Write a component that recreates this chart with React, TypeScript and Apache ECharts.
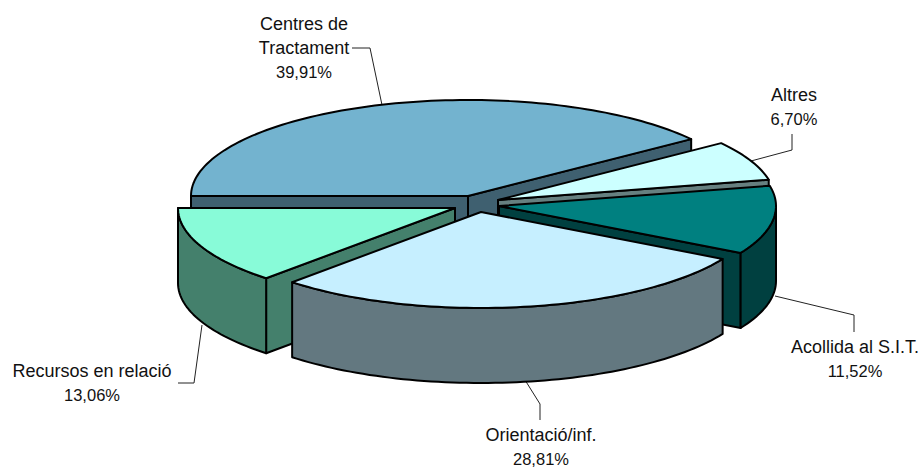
import React, { useEffect, useRef } from "react";
import * as echarts from "echarts";

// ---- data ----
const categories = ["Centres de\nTractament", "Altres", "Acollida al S.I.T.", "Orientació/inf.", "Recursos en relació"];
const values = [39.91, 6.7, 11.52, 28.81, 13.06];
const topColors = ["#73B3CF", "#CCFFFF", "#008080", "#C6EFFF", "#88FBD8"];
const sideColors = ["#3F6070", "#668080", "#004040", "#637880", "#44806C"];

// ---- layout ----
const RX = 277;
const RY = 96;
const DEPTH = 75;
const START_ANGLE = 180;
const LINE_STEP = 24;
const apexes = [[468, 196], [498, 200], [499, 206], [481, 212], [455, 208]];
const drawOrder = [0, 1, 2, 4, 3];
const labelPositions = [[304, 47.5], [794, 107], [855, 359], [541, 446.5], [92, 383]];
const leaderLines = [
  [[352, 48], [370, 48], [382, 105]],
  [[792, 134], [792, 150], [751, 161]],
  [[775, 296], [854, 315], [854, 332]],
  [[525, 380], [540, 404], [540, 420]],
  [[178, 383], [194, 383], [202, 325]],
];

const angleRanges = (() => {
  const total = values.reduce((a, b) => a + b, 0);
  let cursor = START_ANGLE;
  return values.map((v) => {
    const from = cursor;
    cursor -= (v / total) * 360;
    return [from, cursor];
  });
})();

const rad = (d: number) => (d * Math.PI) / 180;

function rimPoint(cx: number, cy: number, deg: number, dy = 0) {
  return [cx + RX * Math.cos(rad(deg)), cy - RY * Math.sin(rad(deg)) + dy];
}

function arc(cx: number, cy: number, from: number, to: number, dy = 0) {
  const n = Math.max(2, Math.ceil(Math.abs(from - to) / 1.5));
  const pts: number[][] = [];
  for (let i = 0; i <= n; i++) pts.push(rimPoint(cx, cy, from + ((to - from) * i) / n, dy));
  return pts;
}

const STROKE = { stroke: "#000", lineWidth: 2, lineJoin: "round" as const };

function renderSlice(_params: any, api: any) {
  const idx = api.value(0);
  const [cx, cy] = apexes[idx];
  const [from, to] = angleRanges[idx];
  const side = { fill: sideColors[idx], ...STROKE };
  const children: any[] = [];

  const wall = (deg: number) => {
    const p = rimPoint(cx, cy, deg);
    return {
      type: "polygon",
      shape: { points: [[cx, cy], p, [p[0], p[1] + DEPTH], [cx, cy + DEPTH]] },
      style: side,
    };
  };
  if (Math.sin(rad(from + 90)) < 0) children.push(wall(from));
  if (Math.sin(rad(to - 90)) < 0) children.push(wall(to));

  const rimFrom = Math.min(from, 0);
  if (rimFrom > to) {
    children.push({
      type: "polygon",
      shape: { points: [...arc(cx, cy, rimFrom, to), ...arc(cx, cy, to, rimFrom, DEPTH)] },
      style: side,
    });
  }
  children.push({
    type: "polygon",
    shape: { points: [[cx, cy], ...arc(cx, cy, from, to)] },
    style: { fill: topColors[idx], ...STROKE },
  });
  return { type: "group", children };
}

const percent = (v: number) => v.toFixed(2).replace(".", ",") + "%";

const FONT_FAMILY = '"Liberation Sans", Arial, sans-serif';

function labelTexts(i: number) {
  const rows = [
    ...categories[i].split("\n").map((text) => ({ text, size: 18 })),
    { text: percent(values[i]), size: 16.5 },
  ];
  const [x, cy] = labelPositions[i];
  return rows.map((row, r) => ({
    type: "text",
    silent: true,
    x,
    y: cy + (r - (rows.length - 1) / 2) * LINE_STEP,
    style: {
      text: row.text,
      fill: "#111",
      font: `${row.size}px ${FONT_FAMILY}`,
      align: "center",
      verticalAlign: "middle",
    },
  }));
}

export default function App() {
  const ref = useRef<HTMLDivElement>(null);
  useEffect(() => {
    const chart = echarts.init(ref.current!, undefined, { renderer: "svg" });
    chart.setOption({
      animation: false,
      backgroundColor: "#fff",
      series: [
        {
          type: "custom",
          coordinateSystem: "none",
          silent: true,
          clip: false,
          renderItem: renderSlice,
          data: drawOrder.map((i) => [i, values[i]]),
        },
      ],
      graphic: [
        ...leaderLines.map((points) => ({
          type: "polyline",
          silent: true,
          shape: { points },
          style: { stroke: "#222", lineWidth: 1, fill: "none" },
        })),
        ...categories.flatMap((_, i) => labelTexts(i)),
      ],
    });
    return () => chart.dispose();
  }, []);
  return <div ref={ref} style={{ position: "fixed", left: 0, top: 0, width: 923, height: 467 }} />;
}
